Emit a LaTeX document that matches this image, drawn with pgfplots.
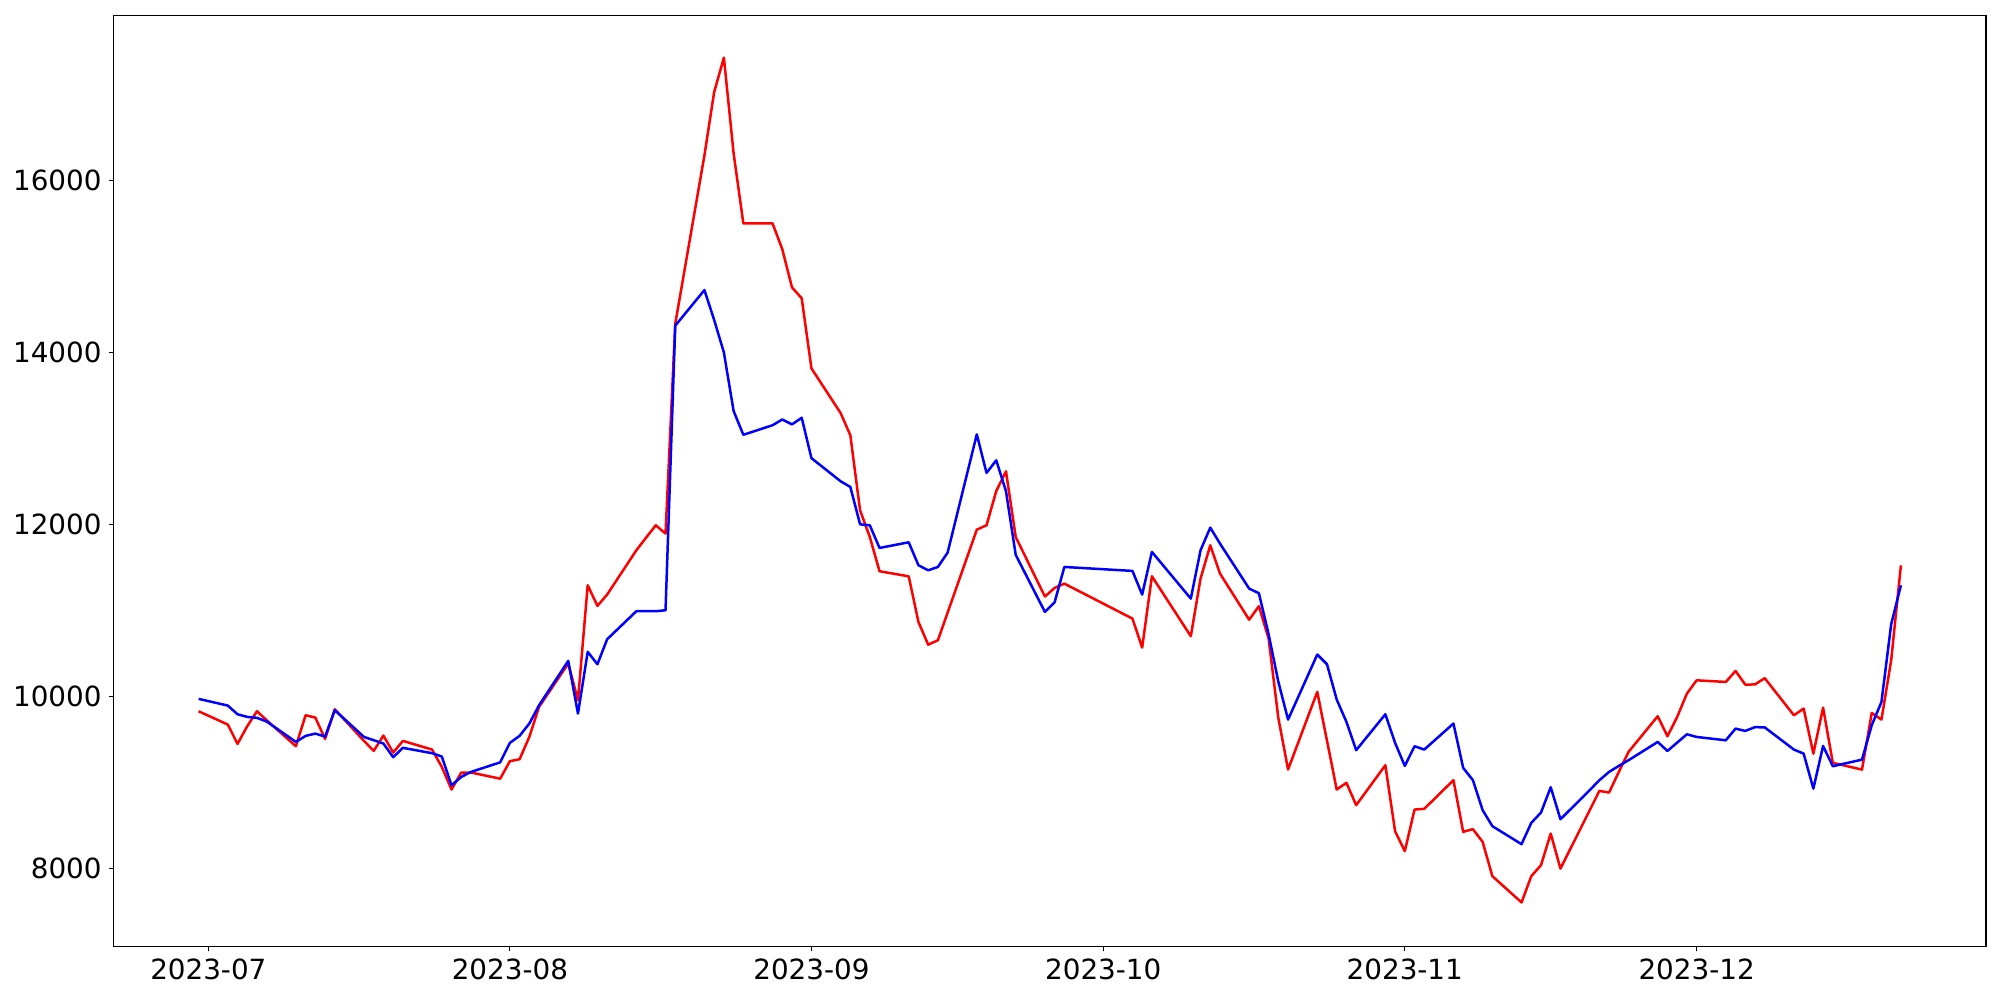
\documentclass[border=0pt]{standalone}
\usepackage{fontspec}
\setmainfont{DejaVu Sans}
\usepackage{pgfplots}
\pgfplotsset{compat=1.18}

% x = days since 2023-07-01
\pgfplotstableread{
d v
-1 9825
2 9670
3 9445
4 9651
5 9825
6 9720
9 9418
10 9779
11 9751
12 9503
13 9848
16 9480
17 9364
18 9542
19 9344
20 9480
23 9379
24 9177
25 8914
26 9112
27 9112
30 9040
31 9244
32 9267
33 9527
34 9876
37 10380
38 9953
39 11291
40 11051
41 11183
44 11698
45 11845
46 11989
47 11892
48 14334
51 16294
52 17030
53 17431
54 16316
55 15502
58 15502
59 15203
60 14757
61 14630
62 13815
65 13295
66 13036
67 12163
68 11853
69 11454
72 11395
73 10864
74 10600
75 10651
79 11938
80 11989
81 12388
82 12617
83 11853
86 11160
87 11260
88 11310
95 10903
96 10566
97 11396
101 10698
102 11368
103 11756
104 11427
107 10890
108 11048
109 10670
110 9745
111 9147
114 10050
116 8914
117 8992
118 8732
121 9197
122 8429
123 8197
124 8681
125 8689
128 9023
129 8422
130 8453
131 8305
132 7906
135 7600
136 7905
137 8034
138 8402
139 7994
143 8898
144 8879
145 9119
146 9352
149 9767
150 9534
151 9759
152 10030
153 10185
156 10166
157 10294
158 10135
159 10137
160 10210
163 9778
164 9856
165 9332
166 9867
167 9224
170 9146
171 9805
172 9728
173 10418
174 11523
}\redseries

\pgfplotstableread{
d v
-1 9969
2 9891
3 9790
4 9759
5 9748
6 9705
9 9468
10 9538
11 9565
12 9530
13 9837
16 9526
17 9488
18 9449
19 9290
20 9399
23 9337
24 9298
25 8964
26 9061
27 9119
30 9230
31 9457
32 9539
33 9682
34 9895
37 10411
38 9798
39 10516
40 10372
41 10663
44 10989
45 10990
46 10989
47 11000
48 14312
51 14726
52 14378
53 14000
54 13318
55 13042
58 13153
59 13220
60 13163
61 13240
62 12770
65 12501
66 12435
67 12000
68 11989
69 11725
72 11791
73 11524
74 11465
75 11504
76 11671
79 13047
80 12598
81 12745
82 12385
83 11645
86 10981
87 11093
88 11504
95 11458
96 11182
97 11679
101 11136
102 11698
103 11962
104 11776
107 11252
108 11198
109 10720
110 10167
111 9728
114 10485
115 10372
116 9961
117 9701
118 9372
121 9790
122 9457
123 9189
124 9418
125 9379
128 9682
129 9166
130 9023
131 8674
132 8488
135 8278
136 8526
137 8646
138 8941
139 8568
142 8906
143 9022
144 9119
145 9189
146 9255
149 9468
150 9363
151 9460
152 9557
153 9526
156 9487
157 9623
158 9596
159 9640
160 9637
163 9379
164 9332
165 8925
166 9421
167 9185
170 9262
171 9662
172 9933
173 10837
174 11291
}\blueseries

\begin{document}
\begin{tikzpicture}
\begin{axis}[
    scale only axis,
    width=936.25pt, height=465.6pt,
    xmin=-9.75, xmax=182.75,
    ymin=7087.5, ymax=17923.5,
    xtick={0,31,62,92,123,153},
    xticklabels={2023-07,2023-08,2023-09,2023-10,2023-11,2023-12},
    ytick={8000,10000,12000,14000,16000},
    scaled y ticks=false,
    yticklabel style={/pgf/number format/fixed, /pgf/number format/1000 sep={}},
    /pgf/number format/assume math mode=true,
    tick pos=left,
    tick align=outside,
    major tick length=2.43pt,
    every tick/.style={black, line width=0.56pt},
    axis line style={line width=0.56pt},
    ticklabel style={font=\fontsize{13.9}{16}\selectfont},
]
\addplot[color=red, line width=1.25pt, line join=round] table[x=d, y=v] {\redseries};
\addplot[color=blue, line width=1.25pt, line join=round] table[x=d, y=v] {\blueseries};
\coordinate (sw) at (rel axis cs:0,0);
\coordinate (ne) at (rel axis cs:1,1);
\end{axis}
\pgfresetboundingbox
\path[use as bounding box] ([shift={(-56.75pt,-26.75pt)}]sw) rectangle ([shift={(7pt,7.65pt)}]ne);
\end{tikzpicture}
\end{document}
